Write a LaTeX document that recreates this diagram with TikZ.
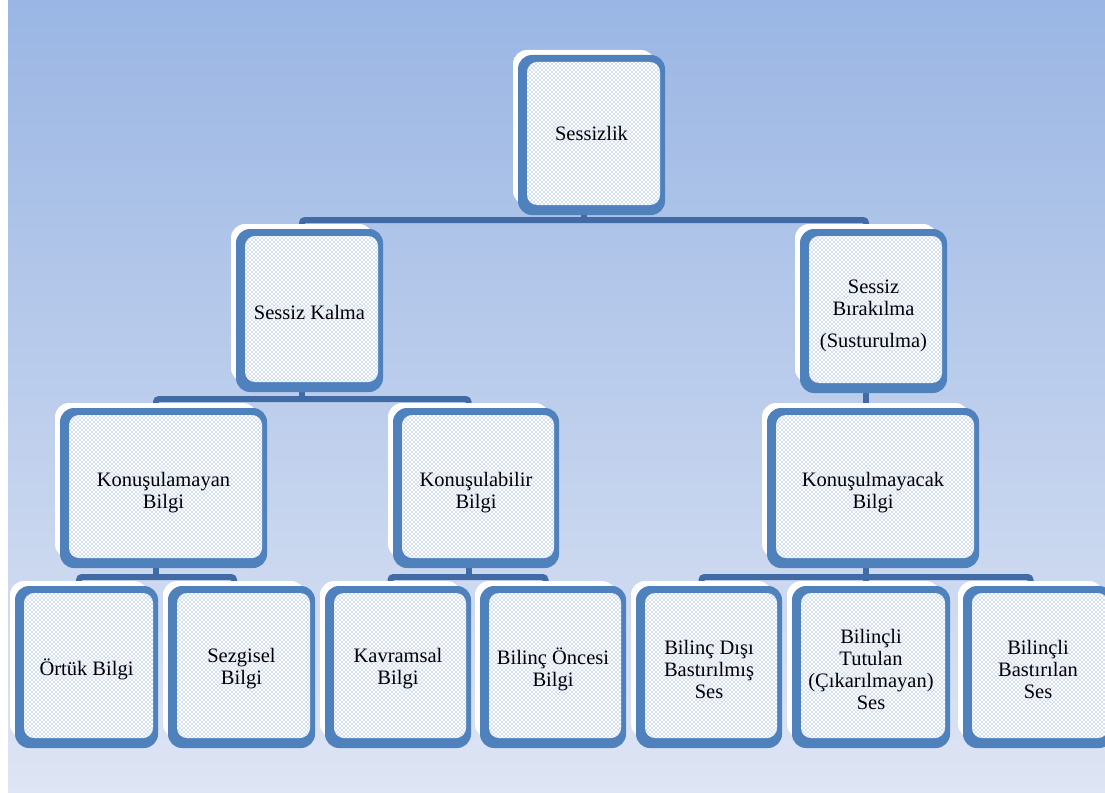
\documentclass[tikz,border=0pt]{standalone}
\usepackage{fontspec}
\setmainfont{Liberation Serif}
\usetikzlibrary{patterns}
\definecolor{bl}{RGB}{79,129,189}
\definecolor{cn}{RGB}{66,107,165}
\definecolor{dotc}{RGB}{70,125,215}
\definecolor{bgtop}{RGB}{154,182,228}
\definecolor{bgbot}{RGB}{222,229,244}
\pgfdeclarelayer{bglayer}
\pgfdeclarelayer{connlayer}
\pgfdeclarelayer{framelayer}
\pgfsetlayers{bglayer,connlayer,framelayer,main}
\pgfdeclarepatternformonly{mydots}{\pgfqpoint{-1pt}{-1pt}}{\pgfqpoint{3pt}{3pt}}{\pgfqpoint{4pt}{4pt}}{%
  \pgfpathcircle{\pgfqpoint{0pt}{0pt}}{0.62pt}%
  \pgfpathcircle{\pgfqpoint{2pt}{2pt}}{0.62pt}%
  \pgfusepath{fill}}
\newcommand\boxdeco[1]{%
  \fill[white, rounded corners=14pt] ([shift={(-5,-5)}]#1.north west) rectangle ([shift={(-10,-10)}]#1.south east);
  \fill[bl, rounded corners=14pt] (#1.north west) rectangle (#1.south east);
  \fill[white, rounded corners=10pt, postaction={pattern=mydots, pattern color=dotc}] ([shift={(9,7)}]#1.north west) rectangle ([shift={(-5,-10)}]#1.south east);}
\begin{document}
\begin{tikzpicture}[x=1pt,y=-1pt,
  bx/.style 2 args={inner sep=0pt, outer sep=0pt, minimum width=#1, minimum height=#2},
  lbl/.style={inner sep=0pt, align=center, font=\fontsize{20.5}{22}\selectfont},
  conn/.style={draw=cn, line width=6pt, rounded corners=3pt}]
\useasboundingbox (0,0) rectangle (1105,792);
\begin{pgfonlayer}{bglayer}
\fill[white] (0,0) rectangle (1105,792);
\shade[top color=bgtop, bottom color=bgbot] (8,1) rectangle (1105,792);
\end{pgfonlayer}

\node[bx={147pt}{160pt}, label={[lbl,yshift=2pt]center:{Sessizlik}}] (root) at (591.5,135) {};
\node[bx={147pt}{163pt}, label={[lbl,yshift=-2pt]center:{Sessiz Kalma}}] (sk) at (309.5,310.5) {};
\node[bx={147pt}{164pt}, label={[lbl,yshift=-5pt]center:{Sessiz\\Bırakılma\\[10pt](Susturulma)}}] (sb) at (873.5,311) {};
\node[bx={207pt}{160pt}, label={[lbl,yshift=-5pt]center:{Konuşulamayan\\Bilgi}}] (k1) at (163.5,488) {};
\node[bx={166pt}{160pt}, label={[lbl,yshift=-5pt]center:{Konuşulabilir\\Bilgi}}] (k2) at (476,488) {};
\node[bx={212pt}{160pt}, label={[lbl,yshift=-5pt]center:{Konuşulmayacak\\Bilgi}}] (k3) at (873,488) {};
\node[bx={143pt}{162pt}, label={[lbl,yshift=-2pt]center:{Örtük Bilgi}}] (l1) at (86.5,667) {};
\node[bx={147pt}{162pt}, label={[lbl,yshift=-2pt]center:{Sezgisel\\Bilgi}}] (l2) at (241.5,667) {};
\node[bx={146pt}{162pt}, label={[lbl,yshift=-2pt]center:{Kavramsal\\Bilgi}}] (l3) at (398,667) {};
\node[bx={146pt}{162pt}, label={[lbl,yshift=-2pt]center:{Bilinç Öncesi\\Bilgi}}] (l4) at (553,667) {};
\node[bx={146pt}{162pt}, label={[lbl,yshift=-2pt]center:{Bilinç Dışı\\Bastırılmış\\Ses}}] (l5) at (709,667) {};
\node[bx={158pt}{162pt}, label={[lbl,yshift=-2pt]center:{Bilinçli\\Tutulan\\(Çıkarılmayan)\\Ses}}] (l6) at (871,667) {};
\node[bx={150pt}{162pt}, label={[lbl,yshift=-2pt]center:{Bilinçli\\Bastırılan\\Ses}}] (l7) at (1038,667) {};

\begin{pgfonlayer}{framelayer}
\foreach \n in {root,sk,sb,k1,k2,k3,l1,l2,l3,l4,l5,l6,l7} {\boxdeco{\n}}
\end{pgfonlayer}

\begin{pgfonlayer}{connlayer}
% level 0 -> 1
\path ([shift={(-7.5,-9)}]sk.north) coordinate (a1) ([shift={(-7.5,-9)}]sb.north) coordinate (a2);
\draw[conn] ([shift={(-7.5,0)}]sk.north) -- (a1) -- (a2) -- ([shift={(-7.5,0)}]sb.north);
\draw[conn] ([shift={(-7.5,0)}]root.south) -- ([shift={(-7.5,0)}]root.south |- a1);
% Sessiz Kalma -> k1, k2
\path ([shift={(-7.5,-9)}]k1.north) coordinate (b1) ([shift={(-7.5,-9)}]k2.north) coordinate (b2);
\draw[conn] ([shift={(-7.5,0)}]k1.north) -- (b1) -- (b2) -- ([shift={(-7.5,0)}]k2.north);
\draw[conn] ([shift={(-7.5,0)}]sk.south) -- ([shift={(-7.5,0)}]sk.south |- b1);
% Sessiz Birakilma -> k3
\draw[conn] ([shift={(-7.5,0)}]sb.south) -- ([shift={(-7.5,0)}]sb.south |- k3.north);
% k1 -> l1, l2
\path ([shift={(-7.5,-9)}]l1.north) coordinate (c1) ([shift={(-7.5,-9)}]l2.north) coordinate (c2);
\draw[conn] ([shift={(-7.5,0)}]l1.north) -- (c1) -- (c2) -- ([shift={(-7.5,0)}]l2.north);
\draw[conn] ([shift={(-7.5,0)}]k1.south) -- ([shift={(-7.5,0)}]k1.south |- c1);
% k2 -> l3, l4
\path ([shift={(-7.5,-9)}]l3.north) coordinate (d1) ([shift={(-7.5,-9)}]l4.north) coordinate (d2);
\draw[conn] ([shift={(-7.5,0)}]l3.north) -- (d1) -- (d2) -- ([shift={(-7.5,0)}]l4.north);
\draw[conn] ([shift={(-7.5,0)}]k2.south) -- ([shift={(-7.5,0)}]k2.south |- d1);
% k3 -> l5, l6, l7
\path ([shift={(-7.5,-9)}]l5.north) coordinate (e1) ([shift={(-7.5,-9)}]l7.north) coordinate (e3);
\draw[conn] ([shift={(-7.5,0)}]l5.north) -- (e1) -- (e3) -- ([shift={(-7.5,0)}]l7.north);
\draw[conn] ([shift={(-7.5,0)}]k3.south) -- ([shift={(-7.5,0)}]k3.south |- l6.north);
\end{pgfonlayer}
\end{tikzpicture}
\end{document}
